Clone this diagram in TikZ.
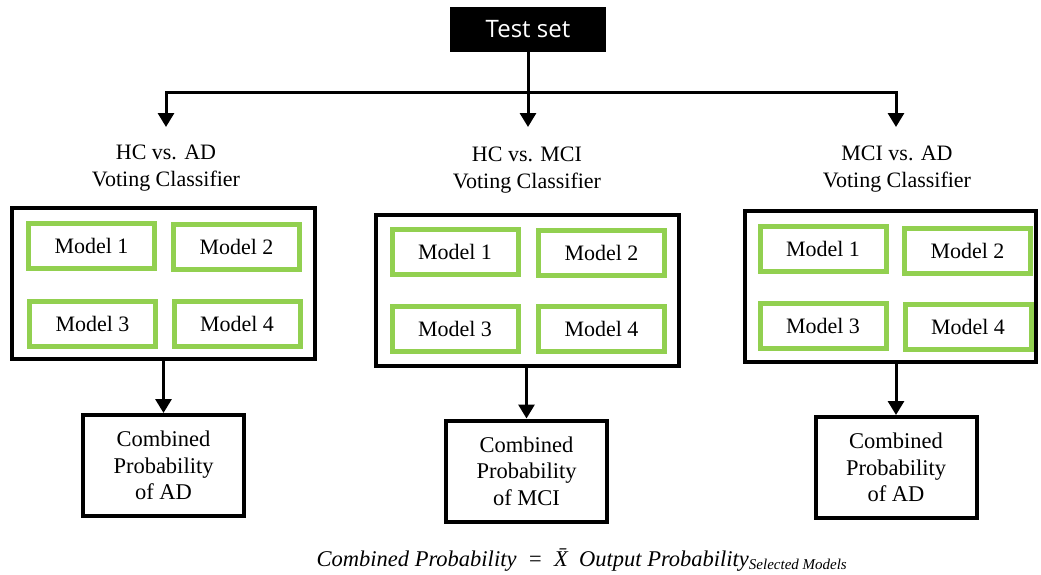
\documentclass[tikz,border=0pt]{standalone}
\usepackage{fontspec}
\setmainfont{Liberation Serif}
\newfontfamily\headfont{Open Sans}
\usetikzlibrary{arrows.meta}
\definecolor{modelgreen}{HTML}{92D050}
\begin{document}
\begin{tikzpicture}[x=1pt,y=-1pt,
  txt/.style={font=\fontsize{22}{27}\selectfont},
  headbox/.style={fill=black,text=white,minimum width=156pt,minimum height=45pt,inner sep=0pt,font=\headfont\fontsize{24}{27}\selectfont},
  groupbox/.style={draw=black,line width=4pt,minimum width=303pt,minimum height=151pt,inner sep=0pt},
  modelbox/.style={draw=modelgreen,line width=5pt,minimum width=126pt,minimum height=45pt,inner sep=0pt,txt},
  resultbox/.style={draw=black,line width=4pt,minimum width=161pt,minimum height=101pt,inner sep=0pt,align=center,font=\fontsize{22.5}{26.5}\selectfont},
  title/.style={align=center,txt},
  link/.style={line width=3pt},
  arrow/.style={line width=3pt,-{Triangle[width=16pt,length=14pt]}}]
\useasboundingbox (0,0) rectangle (1041,574);

% root
\node[headbox] (test) at (528,29.5) {Test set};
\coordinate (split) at (528,92);
\coordinate (bl) at (166,92);
\coordinate (br) at (896,92);
\coordinate (tl) at (166,127);
\coordinate (tm) at (528,127);
\coordinate (tr) at (896,127);

% classifier titles
\node[title] (t1) at (166,168) {HC vs. AD\\Voting Classifier};
\node[title] (t2) at (527,170) {HC vs. MCI\\Voting Classifier};
\node[title] (t3) at (897,169) {MCI vs. AD\\Voting Classifier};

% voting groups
\node[groupbox] (g1) at (163.5,283.5) {};
\node[groupbox] (g2) at (527,290) {};
\node[groupbox,minimum width=291pt] (g3) at (890.5,286.5) {};

\node[modelbox] (a1) at (91.5,246) {Model 1};
\node[modelbox] (a2) at (236.5,247) {Model 2};
\node[modelbox] (a3) at (92.5,323.5) {Model 3};
\node[modelbox] (a4) at (237,323.5) {Model 4};

\node[modelbox] (b1) at (455,252) {Model 1};
\node[modelbox] (b2) at (601.5,253) {Model 2};
\node[modelbox] (b3) at (455,328.5) {Model 3};
\node[modelbox] (b4) at (601.5,329) {Model 4};

\node[modelbox] (c1) at (823,249) {Model 1};
\node[modelbox] (c2) at (967.5,250.5) {Model 2};
\node[modelbox] (c3) at (823,325.5) {Model 3};
\node[modelbox] (c4) at (968,327) {Model 4};

% combined outputs
\node[resultbox] (r1) at (163.5,465.5) {Combined\\Probability\\of AD};
\node[resultbox] (r2) at (526.5,471) {Combined\\Probability\\of MCI};
\node[resultbox] (r3) at (896,467.5) {Combined\\Probability\\of AD};

% connectors
\draw[link] (test.south) -- (split);
\draw[link,line cap=rect] (bl) -- (br);
\draw[arrow] (bl) -- (tl);
\draw[arrow] (split) -- (tm);
\draw[arrow] (br) -- (tr);
\draw[arrow] (g1.south -| r1.north) -- (r1.north);
\draw[arrow] (g2.south -| r2.north) -- (r2.north);
\draw[arrow] (g3.south -| r3.north) -- (r3.north);

% formula
\node[font=\fontsize{22.5}{26}\selectfont\itshape] (eq) at (582,560)
  {Combined Probability\ \ =\ \ \=X\ \ Output Probability\textsubscript{\fontsize{15}{17}\selectfont Selected Models}};
\end{tikzpicture}
\end{document}
